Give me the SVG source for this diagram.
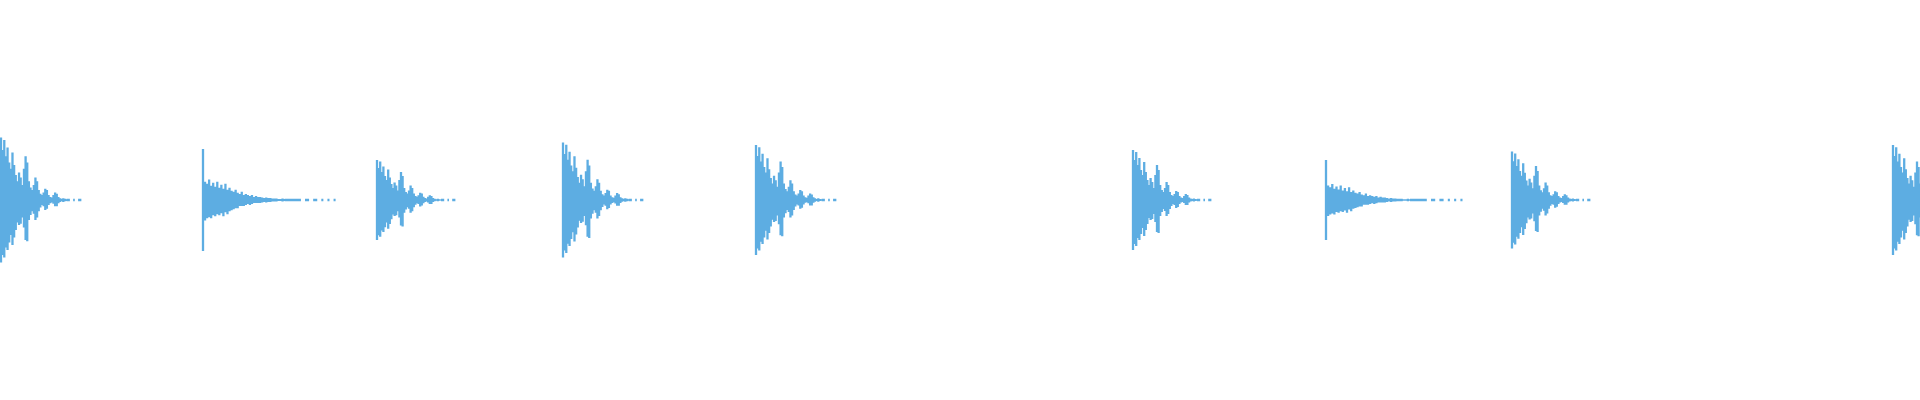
<svg xmlns="http://www.w3.org/2000/svg" width="1920" height="400" viewBox="0 0 1920 400">
<style>.w{fill:none;stroke:#5dade2;stroke-width:2.3;vector-effect:non-scaling-stroke}</style>
<defs>
<path id="a" class="w" d="M0 -50V50M2 -40V44M4 -48V46M6 -35V38M8 -42V40M10 -30V34M12 -25V28M14 -38V36M16 -28V30M18 -20V24M20 -15V18M22 -22V20M24 -18V19M26 -12V14M28 -25V22M30 -35V32M32 -30V33M34 -15V16M36 -10V12M38 -8V9M40 -12V11M42 -18V16M44 -15V14M46 -8V9M48 -5V6M50 -4V4M52 -6V5M54 -9V8M56 -8V7M58 -4V4M60 -2.5V2.5M62 -2V2M64 -4V3M66 -6V5M68 -5V5M70 -2.5V2.5M72 -1.5V1.5M74 -1V1M76 -1.5V1.5M78 -1V1M80 -0.7V0.7M80 0H84M88 0H90M94 0H98"/>
<path id="b" class="w" d="M0 -50V50M2 -18V20M4 -16V18M6 -20V17M8 -14V18M10 -17V15M12 -13V16M14 -18V14M16 -12V15M18 -15V13M20 -11V16M22 -16V12M24 -10V14M26 -12V11M28 -9V10M30 -8V9M32 -10V8M34 -7V8M36 -6V6M38 -8V6M40 -5V6M42 -6V5M44 -5V4M46 -4V5M48 -5V4M50 -3V3M52 -4V3M54 -3V3M56 -3V3M58 -2.5V2.5M60 -2V2M62 -2.5V2.5M64 -2V2M66 -2V2M68 -1.5V1.5M70 -1.5V1.5M72 -1.5V1.5M74 -1V1M76 -1V1M78 -1.5V1.5M80 -1V1M80 0H96M100 0H104M108 0H112M116 0H118M122 0H124M128 0H130"/>
</defs>
<g id="waveform">
<use href="#a" transform="translate(1 200) scale(0.82 1.25)"/>
<use href="#b" transform="translate(203 200) scale(1.02 1.02)"/>
<use href="#a" transform="translate(377 200) scale(0.8 0.8)"/>
<use href="#a" transform="translate(563 200) scale(0.82 1.15)"/>
<use href="#a" transform="translate(756 200) scale(0.82 1.1)"/>
<use href="#a" transform="translate(1133 200) scale(0.8 1.0)"/>
<use href="#b" transform="translate(1326 200) scale(1.05 0.8)"/>
<use href="#a" transform="translate(1512 200) scale(0.8 0.97)"/>
<use href="#a" transform="translate(1893 200) scale(0.8 1.1)"/>
</g>
</svg>
